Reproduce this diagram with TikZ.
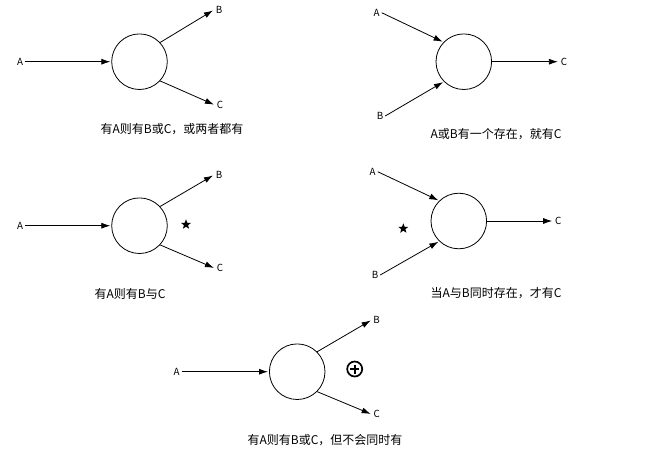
\documentclass[tikz,border=0pt]{standalone}
\usepackage{fontspec}
\setmainfont{Noto Sans CJK SC}
\usetikzlibrary{arrows.meta,shapes.geometric}
\tikzset{
  proc/.style={circle,draw,line width=0.8pt,minimum size=55.6pt,inner sep=0pt},
  lbl/.style={font=\fontsize{9.8}{10}\selectfont,inner sep=1.8pt},
  captext/.style={font=\fontsize{12}{14}\selectfont,inner sep=0pt},
  arr/.style={line width=0.8pt,-{Latex[length=9pt,width=6pt]},shorten >=1pt},
  starmark/.style={star,star points=5,star point ratio=2.4,fill,draw=none,minimum size=10.5pt,inner sep=0pt},
}
\begin{document}
\begin{tikzpicture}[x=1pt,y=-1pt]
\useasboundingbox (0,0) rectangle (648,464);
% Diagram 1
\node[proc] (c1) at (139.5,61.7) {};
\node[lbl] (a1) at (20,61.7) {A};
\node[lbl] (b1) at (219,10) {B};
\node[lbl] (d1) at (220,105) {C};
\draw[arr] (a1.east) -- (c1.west);
\draw[arr] (c1.43) -- (b1.west);
\draw[arr] (c1.-43) -- (d1.west);
\node[captext] (t1) at (172,129.5) {有A则有B或C，或两者都有};
% Diagram 2
\node[proc] (c2) at (463.8,61.7) {};
\node[lbl] (a2) at (376.7,12.7) {A};
\node[lbl] (b2) at (380,116) {B};
\node[lbl] (d2) at (564,61.7) {C};
\draw[arr] (a2.east) -- (c2.136);
\draw[arr] (b2.east) -- (c2.225);
\draw[arr] (c2.east) -- (d2.west);
\node[captext] (t2) at (496,134) {A或B有一个存在，就有C};
% Diagram 3
\node[proc] (c3) at (139.5,225.7) {};
\node[lbl] (a3) at (20,225.7) {A};
\node[lbl] (b3) at (219,175) {B};
\node[lbl] (d3) at (220,268.3) {C};
\draw[arr] (a3.east) -- (c3.west);
\draw[arr] (c3.43) -- (b3.west);
\draw[arr] (c3.-43) -- (d3.west);
\node[starmark] (s3) at (186,224.5) {};
\node[captext] (t3) at (130,294) {有A则有B与C};
% Diagram 4
\node[proc] (c4) at (458.8,221) {};
\node[lbl] (a4) at (372.7,171.7) {A};
\node[lbl] (b4) at (375,275) {B};
\node[lbl] (d4) at (558.3,221) {C};
\draw[arr] (a4.east) -- (c4.134);
\draw[arr] (b4.east) -- (c4.226);
\draw[arr] (c4.east) -- (d4.west);
\node[starmark] (s4) at (403.3,228.5) {};
\node[captext] (t4) at (496,293) {当A与B同时存在，才有C};
% Diagram 5
\node[proc] (c5) at (297.2,371.7) {};
\node[lbl] (a5) at (176.7,371.7) {A};
\node[lbl] (b5) at (376.7,320) {B};
\node[lbl] (d5) at (376.7,414.3) {C};
\draw[arr] (a5.east) -- (c5.west);
\draw[arr] (c5.45) -- (b5.west);
\draw[arr] (c5.-45) -- (d5.west);
\node[circle,draw,line width=1.7pt,minimum size=15pt,inner sep=0pt] (x5) at (354.7,369) {};
\draw[line width=1.7pt] ([xshift=-4.5pt]x5.center) -- ([xshift=4.5pt]x5.center);
\draw[line width=1.7pt] ([yshift=-4.5pt]x5.center) -- ([yshift=4.5pt]x5.center);
\node[captext] (t5) at (325,440.5) {有A则有B或C，但不会同时有};
\end{tikzpicture}
\end{document}
